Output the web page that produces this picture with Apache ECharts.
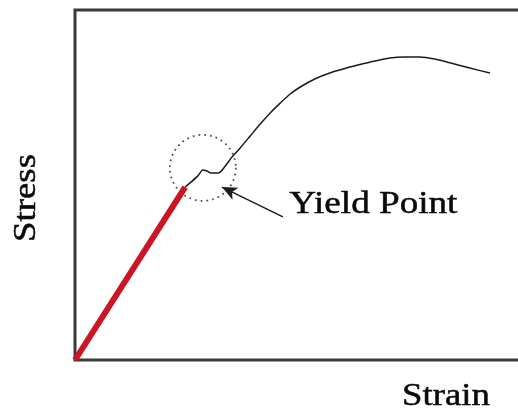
<!DOCTYPE html>
<html>
<head>
<meta charset="utf-8">
<script src="https://cdn.jsdelivr.net/npm/echarts@6/dist/echarts.min.js"></script>
<style>
  html, body { margin: 0; padding: 0; background: #fff; }
  #chart { width: 518px; height: 412px; }
</style>
</head>
<body>
<div id="chart"></div>
<script>
// Elastic region (straight red segment)
const strainElastic = [0, 24.2];
const stressElastic = [0, 49.4];

// Plastic region (thin black curve) after the yield point
const strainPlastic = [24.2, 25.3, 27.0, 28.1, 29.0, 29.9, 31.0, 31.9, 33.2, 34.5, 36.3, 38.5, 40.7, 42.9, 45.1, 47.3, 49.5, 52.7, 56.0, 60.4, 64.8, 69.2, 72.5, 75.8, 79.1, 82.4, 86.8, 91.2];
const stressPlastic = [49.4, 50.6, 52.6, 54.3, 54.0, 53.4, 53.4, 53.7, 55.7, 58.0, 60.6, 64.0, 67.4, 70.6, 73.4, 76.0, 78.0, 80.3, 82.0, 83.7, 85.1, 86.3, 86.6, 86.6, 86.0, 84.9, 83.4, 82.0];

// Yield point marker and the annotation arrow (strain, stress)
const yieldPoint = [28.1, 54.9];
const arrowTail = [45.7, 40.9];
const arrowHead = [32.3, 49.4];

const labels = { x: 'Strain', y: 'Stress', yield: 'Yield Point' };

const zip = (xs, ys) => xs.map((x, i) => [x, ys[i]]);

const textStyle = (text, extra) => Object.assign({
  text: text,
  fontFamily: 'Liberation Serif',
  fontSize: 32,
  fill: '#0a0a0a',
  stroke: '#0a0a0a',
  lineWidth: 0.5
}, extra);

const chart = echarts.init(document.getElementById('chart'), null, { renderer: 'canvas' });

chart.setOption({
  animation: false,
  backgroundColor: '#ffffff',
  grid: {
    // the frame runs on past the right edge of the page
    left: 75, top: 10, height: 350, width: 455,
    outerBoundsMode: 'none',
    show: true,
    borderColor: '#3a3a3a',
    borderWidth: 3,
    backgroundColor: 'transparent'
  },
  xAxis: {
    type: 'value', min: 0, max: 100,
    axisLine: { show: false }, axisTick: { show: false },
    axisLabel: { show: false }, splitLine: { show: false }
  },
  yAxis: {
    type: 'value', min: 0, max: 100,
    axisLine: { show: false }, axisTick: { show: false },
    axisLabel: { show: false }, splitLine: { show: false }
  },
  series: [
    {
      name: 'plastic',
      type: 'line',
      data: zip(strainPlastic, stressPlastic),
      smooth: 0.25,
      showSymbol: false,
      lineStyle: { color: '#1c1c1c', width: 1.5 },
      z: 2
    },
    {
      name: 'elastic',
      type: 'line',
      data: zip(strainElastic, stressElastic),
      showSymbol: false,
      lineStyle: { color: '#cc1424', width: 6, cap: 'butt' },
      z: 3
    },
    {
      name: 'yield',
      type: 'scatter',
      data: [yieldPoint],
      symbol: 'circle',
      symbolSize: 66,
      itemStyle: {
        color: 'transparent',
        borderColor: '#2a2a2a',
        borderWidth: 1.8,
        borderType: [1.8, 4]
      },
      silent: true,
      z: 1,
      markLine: {
        silent: true,
        symbol: ['none', 'arrow'],
        symbolSize: [10, 15],
        label: { show: false },
        lineStyle: { color: '#1c1c1c', width: 1.5, type: 'solid' },
        data: [[{ coord: arrowTail }, { coord: arrowHead }]]
      }
    }
  ],
  graphic: [
    {
      type: 'text', left: 289, top: 188, scaleX: 1.16,
      style: textStyle(labels.yield)
    },
    {
      type: 'text', x: 446, y: 397, scaleX: 1.15,
      style: textStyle(labels.x, { align: 'center', verticalAlign: 'middle' })
    },
    {
      type: 'text', x: 27, y: 198, rotation: Math.PI / 2, scaleX: 1.15,
      style: textStyle(labels.y, { align: 'center', verticalAlign: 'middle' })
    }
  ]
});
</script>
</body>
</html>
